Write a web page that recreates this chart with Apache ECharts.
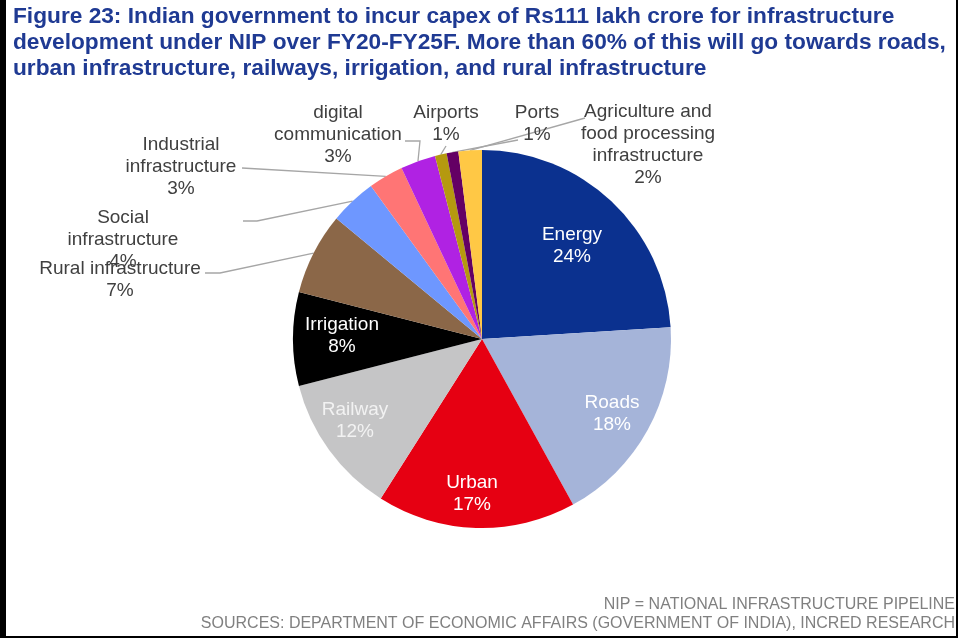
<!DOCTYPE html>
<html>
<head>
<meta charset="utf-8">
<script src="https://cdn.jsdelivr.net/npm/echarts@6/dist/echarts.min.js"></script>
<style>
  html, body { margin: 0; padding: 0; background: #ffffff; }
  #chart { width: 967px; height: 639px; }
</style>
</head>
<body>
<div id="chart"></div>
<script>
// Sectors of the National Infrastructure Pipeline, clockwise from 12 o'clock
const categories = [
  'Energy', 'Roads', 'Urban', 'Railway', 'Irrigation',
  'Rural infrastructure', 'Social infrastructure', 'Industrial infrastructure',
  'digital communication', 'Airports', 'Ports',
  'Agriculture and food processing infrastructure'
];
// Share of total capex, %
const shares = [24, 18, 17, 12, 8, 7, 4, 3, 3, 1, 1, 2];
// Label text as printed (with line breaks)
const labelTexts = [
  'Energy', 'Roads', 'Urban', 'Railway', 'Irrigation',
  'Rural infrastructure', 'Social\ninfrastructure', 'Industrial\ninfrastructure',
  'digital\ncommunication', 'Airports', 'Ports',
  'Agriculture and\nfood processing\ninfrastructure'
];

const sliceColors = [
  '#0B318F', '#A5B4D9', '#E60012', '#C5C5C6', '#000000',
  '#8B6748', '#6E97FF', '#FF7575', '#B022E3', '#B5990F',
  '#640064', '#FFC845'
];
const insideLabel = [true, true, true, true, true, false, false, false, false, false, false, false];
const insideTextColor = ['#FFFFFF', '#FFFFFF', '#FFFFFF', '#F2F2F2', '#FFFFFF'];

// Label block centres (px)
const labelAnchor = [
  [572, 246], [612, 414], [472, 494], [355, 421], [342, 336],
  [120, 280], [123, 240], [181, 167], [338, 135], [446, 124],
  [537, 124], [648, 145]
];
// Leader line end segments for the outside labels
const leaderTail = [
  null, null, null, null, null,
  [[220, 273], [205, 273]],
  [[257, 221], [243, 221]],
  [[242, 168]],
  [[420, 141], [405, 141]],
  [[446, 146]],
  [[518, 140]],
  [[585, 118]]
];

const pieData = categories.map(function (name, i) {
  const item = {
    name: name,
    value: shares[i],
    itemStyle: { color: sliceColors[i] }
  };
  if (insideLabel[i]) {
    item.label = { position: 'inside', color: insideTextColor[i] };
    item.labelLine = { show: false };
  } else {
    item.label = { position: 'outside', color: '#404040' };
    item.labelLine = { show: true };
  }
  return item;
});

const chart = echarts.init(document.getElementById('chart'), null, { renderer: 'canvas' });

chart.setOption({
  animation: false,
  backgroundColor: '#ffffff',
  graphic: [
    {
      type: 'text', left: 13, top: 3.5, z: 10,
      style: {
        text: 'Figure 23: Indian government to incur capex of Rs111 lakh crore for infrastructure\n' +
              'development under NIP over FY20-FY25F. More than 60% of this will go towards roads,\n' +
              'urban infrastructure, railways, irrigation, and rural infrastructure',
        font: 'bold 22.7px "Liberation Sans", Arial, sans-serif',
        lineHeight: 26,
        fill: '#1F3A93'
      }
    },
    {
      type: 'text', right: 12, top: 597, z: 10,
      style: {
        text: 'NIP = NATIONAL INFRASTRUCTURE PIPELINE',
        font: '16px "Liberation Sans", Arial, sans-serif',
        fill: '#808080', align: 'right'
      }
    },
    {
      type: 'text', right: 12, top: 616, z: 10,
      style: {
        text: 'SOURCES: DEPARTMENT OF ECONOMIC AFFAIRS (GOVERNMENT OF INDIA), INCRED RESEARCH',
        font: '16px "Liberation Sans", Arial, sans-serif',
        fill: '#808080', align: 'right'
      }
    },
    // frame
    { type: 'rect', shape: { x: 0, y: 0, width: 6, height: 638 }, style: { fill: '#000' }, z: 20, silent: true },
    { type: 'rect', shape: { x: 956, y: 0, width: 2, height: 638 }, style: { fill: '#000' }, z: 20, silent: true },
    { type: 'rect', shape: { x: 0, y: 636, width: 958, height: 2 }, style: { fill: '#000' }, z: 20, silent: true }
  ],
  series: [
    {
      type: 'pie',
      center: [482, 339],
      radius: [0, 189],
      startAngle: 90,
      clockwise: true,
      avoidLabelOverlap: false,
      silent: true,
      itemStyle: { borderWidth: 0 },
      label: {
        show: true,
        formatter: function (p) { return labelTexts[p.dataIndex] + '\n' + p.value + '%'; },
        fontFamily: '"Liberation Sans", Arial, sans-serif',
        fontSize: 19,
        lineHeight: 22,
        align: 'center'
      },
      labelLine: {
        length: 12,
        length2: 10,
        smooth: false,
        lineStyle: { color: '#A6A6A6', width: 1.3 }
      },
      labelLayout: function (p) {
        const a = labelAnchor[p.dataIndex];
        const out = { x: a[0], y: a[1], align: 'center', verticalAlign: 'middle' };
        const tail = leaderTail[p.dataIndex];
        if (tail && p.labelLinePoints) {
          out.labelLinePoints = [p.labelLinePoints[0]].concat(tail);
        }
        return out;
      },
      emphasis: { disabled: true },
      data: pieData
    }
  ]
});
</script>
</body>
</html>
